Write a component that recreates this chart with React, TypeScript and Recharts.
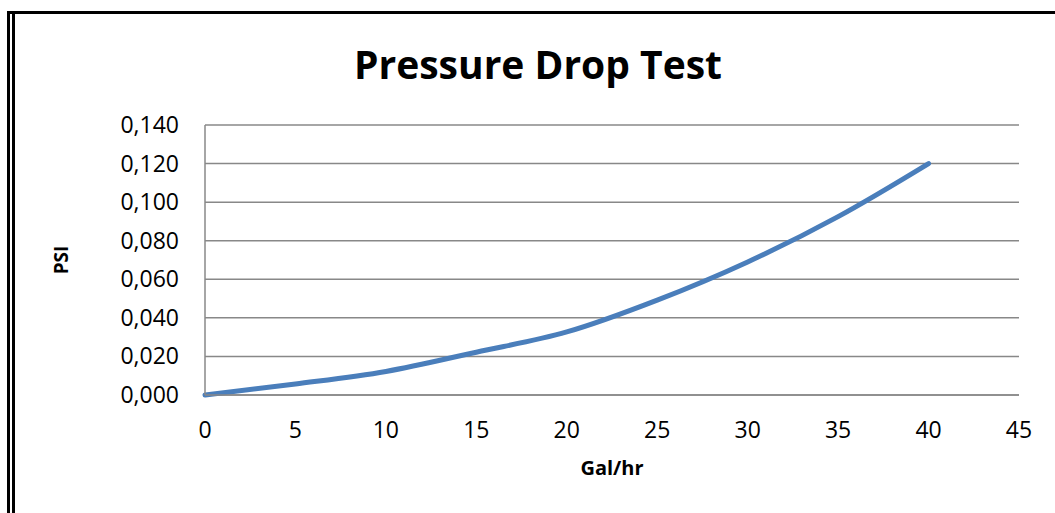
import React from "react";
import { LineChart, Line, XAxis, YAxis, CartesianGrid, Label } from "recharts";

const flowRates = [0, 5, 10, 15, 20, 25, 30, 35, 40];
const psiValues = [0, 0.0057, 0.0122, 0.0222, 0.0327, 0.0492, 0.069, 0.0925, 0.12];
const xTicks = [0, 5, 10, 15, 20, 25, 30, 35, 40, 45];
const yTicks = [0, 0.02, 0.04, 0.06, 0.08, 0.1, 0.12, 0.14];

const data = flowRates.map((x, i) => ({ x, psi: psiValues[i] }));

const FONT = "'Open Sans', 'DejaVu Sans', sans-serif";

const fmt = (v: number) => v.toFixed(3).replace(".", ",");

const XTick = (props: any) => {
  const { x, y, payload } = props;
  return (
    <text x={x} y={y + 43} textAnchor="middle" fill="#000" fontSize={23} fontFamily={FONT}>
      {payload.value}
    </text>
  );
};

const YTick = (props: any) => {
  const { x, y, payload } = props;
  return (
    <text x={x - 26} y={y + 8} textAnchor="end" fill="#000" fontSize={23} fontFamily={FONT}>
      {fmt(payload.value)}
    </text>
  );
};

export default function App() {
  return (
    <div style={{ position: "absolute", left: 0, top: 0, width: 1055, height: 513, background: "#fff", overflow: "hidden" }}>
      <div style={{ position: "absolute", left: 7, top: 11, width: 3, height: 502, background: "#000" }} />
      <div style={{ position: "absolute", left: 12, top: 11, width: 3, height: 502, background: "#000" }} />
      <div style={{ position: "absolute", left: 7, top: 11, width: 1048, height: 3, background: "#000" }} />
      <LineChart
        width={1055}
        height={513}
        data={data}
        margin={{ top: 125, right: 36, bottom: 58, left: 5 }}
        style={{ position: "absolute", left: 0, top: 0 }}
      >
        <text x={538} y={79} textAnchor="middle" fontSize={39} fontWeight={700} fontFamily={FONT} fill="#000">
          Pressure Drop Test
        </text>
        <CartesianGrid vertical={false} stroke="#888888" strokeWidth={1.5} />
        <XAxis
          type="number"
          dataKey="x"
          domain={[0, 45]}
          ticks={xTicks}
          interval={0}
          tickLine={false}
          tickSize={0}
          tickMargin={0}
          tick={<XTick />}
          height={60}
          axisLine={{ stroke: "#888888", strokeWidth: 1.5 }}
        >
          <Label
            content={(p: any) => {
              const vb = p.viewBox;
              return (
                <text x={vb.x + vb.width / 2} y={vb.y + 80} textAnchor="middle" fontSize={20} fontWeight={700} fontFamily={FONT} fill="#000">
                  Gal/hr
                </text>
              );
            }}
          />
        </XAxis>
        <YAxis
          type="number"
          domain={[0, 0.14]}
          ticks={yTicks}
          interval={0}
          width={200}
          tickLine={false}
          tickSize={0}
          tickMargin={0}
          tick={<YTick />}
          axisLine={{ stroke: "#888888", strokeWidth: 1.5 }}
        >
          <Label
            content={(p: any) => {
              const vb = p.viewBox;
              const cx = vb.x + 63;
              const cy = vb.y + vb.height / 2;
              return (
                <text x={cx} y={cy} textAnchor="middle" fontSize={19} fontWeight={700} fontFamily={FONT} fill="#000" transform={`rotate(-90, ${cx}, ${cy})`}>
                  PSI
                </text>
              );
            }}
          />
        </YAxis>
        <Line
          type="monotone"
          dataKey="psi"
          stroke="#4A7EBB"
          strokeWidth={5}
          strokeLinecap="round"
          dot={false}
          activeDot={false}
          isAnimationActive={false}
        />
      </LineChart>
    </div>
  );
}
